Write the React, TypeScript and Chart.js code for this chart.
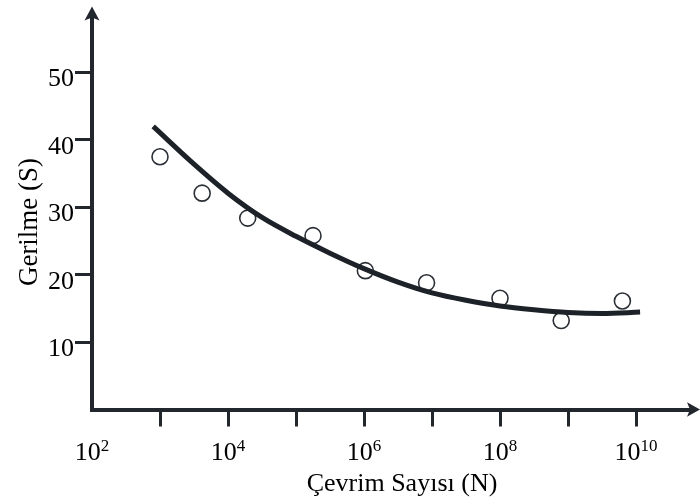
import React, { useEffect, useRef } from "react";
import { Chart, registerables } from "chart.js";

Chart.register(...registerables);

// ---- data ----
const xTickExponents = [3, 4, 5, 6, 7, 8, 9, 10];
const xLabelExponents = [2, 4, 6, 8, 10];
const yTickValues = [10, 20, 30, 40, 50];
const pointExponents = [3.0, 3.62, 4.29, 5.25, 6.02, 6.92, 8.0, 8.9, 9.8];
const pointStress = [37.5, 32.1, 28.4, 25.8, 20.6, 18.8, 16.5, 13.2, 16.1];
const curveExponents = [2.9, 3.5, 4, 4.5, 5, 5.5, 6, 6.5, 7, 7.5, 8, 8.5, 9, 9.5, 10.06];
const curveStress = [42.0, 36.4, 32.1, 28.5, 25.7, 23.2, 20.9, 18.9, 17.3, 16.2, 15.35, 14.8, 14.4, 14.25, 14.45];
const xTitle = "Çevrim Sayısı (N)";
const yTitle = "Gerilme (S)";
const xLabelBase = "10";

const X_MIN = 2;
const X_MAX = 10.794;
const Y_MIN = 0;
const Y_MAX = 58.3;

const FONT = "'Liberation Serif', 'Times New Roman', serif";
const DARK = "#22262d";

const decorPlugin = {
  id: "decor",
  afterDraw(chart: any) {
    const { ctx, chartArea } = chart;
    const { left, top, right, bottom } = chartArea;
    ctx.save();
    ctx.fillStyle = DARK;
    // top arrow
    ctx.beginPath();
    ctx.moveTo(left, top - 10);
    ctx.lineTo(left - 7.5, top + 4);
    ctx.lineTo(left, top + 1);
    ctx.lineTo(left + 7.5, top + 4);
    ctx.closePath();
    ctx.fill();
    // right arrow
    ctx.beginPath();
    ctx.moveTo(right + 10, bottom);
    ctx.lineTo(right - 3, bottom - 7.3);
    ctx.lineTo(right, bottom);
    ctx.lineTo(right - 3, bottom + 7.3);
    ctx.closePath();
    ctx.fill();

    // x tick labels with superscript exponents
    ctx.fillStyle = "#000";
    ctx.textBaseline = "alphabetic";
    ctx.textAlign = "left";
    const xs = chart.scales.x;
    const baseY = xs.top + 50;
    xLabelExponents.forEach((e) => {
      const px = xs.getPixelForValue(e);
      ctx.font = `26px ${FONT}`;
      const wb = ctx.measureText(xLabelBase).width;
      const sup = String(e);
      ctx.font = `17px ${FONT}`;
      const ws = ctx.measureText(sup).width;
      const start = px - (wb + ws) / 2;
      ctx.font = `26px ${FONT}`;
      ctx.fillText(xLabelBase, start, baseY);
      ctx.font = `17px ${FONT}`;
      ctx.fillText(sup, start + wb, baseY - 9);
    });

    // titles
    ctx.textAlign = "center";
    ctx.font = `26px ${FONT}`;
    ctx.fillText(xTitle, 402, 491);
    ctx.font = `27px ${FONT}`;
    ctx.translate(37, 222);
    ctx.rotate(-Math.PI / 2);
    ctx.fillText(yTitle, 0, 0);
    ctx.restore();
  },
};

export default function App() {
  const ref = useRef<HTMLCanvasElement | null>(null);

  useEffect(() => {
    document.body.style.margin = "0";
    const canvas = ref.current;
    if (!canvas) return;
    const chart = new Chart(canvas, {
      type: "line",
      data: {
        datasets: [
          {
            label: "curve",
            data: curveExponents.map((x, i) => ({ x, y: curveStress[i] })),
            borderColor: "#1d2229",
            borderWidth: 5,
            pointRadius: 0,
            cubicInterpolationMode: "monotone",
            fill: false,
          },
          {
            label: "points",
            data: pointExponents.map((x, i) => ({ x, y: pointStress[i] })),
            showLine: false,
            pointRadius: 8,
            pointHoverRadius: 8,
            pointBackgroundColor: "rgba(255,255,255,0)",
            pointBorderColor: "#2b2f36",
            pointBorderWidth: 1.6,
          },
        ],
      },
      plugins: [decorPlugin],
      options: {
        animation: false,
        responsive: true,
        maintainAspectRatio: false,
        layout: { padding: { top: 12, right: 10, left: 0, bottom: 0 } },
        plugins: { legend: { display: false }, tooltip: { enabled: false } },
        scales: {
          x: {
            type: "linear",
            min: X_MIN,
            max: X_MAX,
            afterFit: (s: any) => { s.height = 94.5; },
            afterBuildTicks: (s: any) => {
              s.ticks = xTickExponents.map((v) => ({ value: v }));
            },
            grid: {
              drawOnChartArea: false,
              drawTicks: true,
              tickLength: 17,
              tickWidth: 3,
              tickColor: DARK,
            },
            border: { display: true, color: DARK, width: 4 },
            ticks: {
              display: false,
              autoSkip: false,
              maxRotation: 0,
            },
          },
          y: {
            type: "linear",
            min: Y_MIN,
            max: Y_MAX,
            afterFit: (s: any) => { s.width = 92; },
            afterBuildTicks: (s: any) => {
              s.ticks = yTickValues.map((v) => ({ value: v }));
            },
            grid: {
              drawOnChartArea: false,
              drawTicks: true,
              tickLength: 17,
              tickWidth: 3,
              tickColor: DARK,
            },
            border: { display: true, color: DARK, width: 4 },
            ticks: {
              padding: 1,
              labelOffset: 7,
              color: "#000",
              font: { family: FONT, size: 26 },
              callback: (v: any) => String(v),
            },
          },
        },
      },
    });
    return () => chart.destroy();
  }, []);

  return (
    <div style={{ position: "relative", width: 700, height: 504 }}>
      <canvas ref={ref} />
    </div>
  );
}
